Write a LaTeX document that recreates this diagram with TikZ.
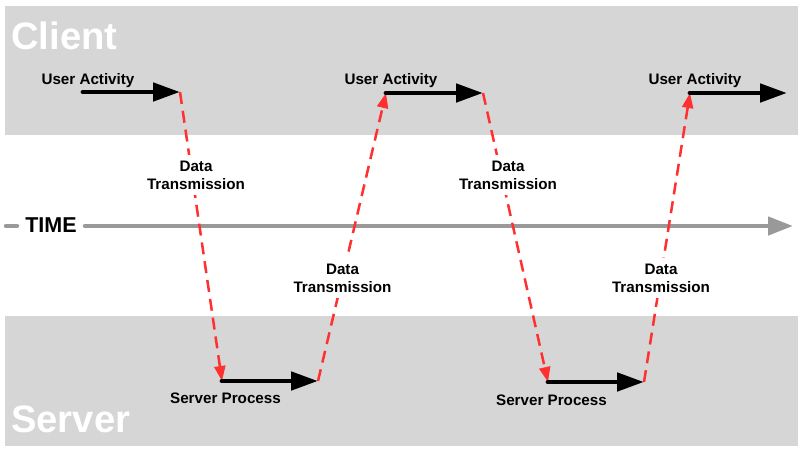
\documentclass[tikz,border=0pt]{standalone}
\usepackage{fontspec}
\setmainfont{Liberation Sans}
\usetikzlibrary{arrows.meta}
\definecolor{band}{HTML}{D6D6D6}
\definecolor{timegray}{HTML}{999999}
\definecolor{dred}{HTML}{FF3030}
\tikzset{
  bandbox/.style={fill=band, draw=none},
  bandtitle/.style={text=white, font=\fontsize{38.2}{41}\selectfont\bfseries, anchor=base west, inner sep=0pt},
  steplabel/.style={font=\fontsize{15.2}{18}\selectfont\bfseries, anchor=base, inner sep=0pt},
  dtlabel/.style={font=\fontsize{15.2}{18}\selectfont\bfseries, align=center, fill=white, inner sep=6pt},
  actarrow/.style={line width=4.8pt, line cap=round, -{Triangle[length=27pt,width=18pt]}, black},
  xfer/.style={dred, line width=2.5pt, dash pattern=on 12pt off 7pt, -{Triangle[length=15pt,width=11pt]}},
  timeline/.style={timegray, line width=4.5pt, line cap=round},
}
\begin{document}
\begin{tikzpicture}[x=1pt,y=-1pt]
\useasboundingbox (0,0) rectangle (812,472);
% bands
\fill[bandbox] (5,6) rectangle (798,135);
\fill[bandbox] (5,316) rectangle (798,446);
\node[bandtitle] (client) at (11,49) {Client};
\node[bandtitle] (server) at (11,432) {Server};
% time axis
\coordinate (t0) at (6,226);
\coordinate (t1) at (17,226);
\coordinate (t2) at (85,226);
\coordinate (t3) at (793,226);
\draw[timeline] (t0) -- (t1);
\draw[timeline, -{Triangle[length=25pt,width=18pt]}] (t2) -- (t3);
\node[font=\fontsize{21.5}{24}\selectfont\bfseries, anchor=base, inner sep=0pt] (time) at (51,232) {TIME};
% activity end points
\coordinate (ua1s) at (83,92);  \coordinate (ua1e) at (180,92);
\coordinate (ua2s) at (386,93); \coordinate (ua2e) at (483,93);
\coordinate (ua3s) at (690,93); \coordinate (ua3e) at (787,93);
\coordinate (sp1s) at (222,381); \coordinate (sp1e) at (318,381);
\coordinate (sp2s) at (548,382); \coordinate (sp2e) at (644,382);
% data transmissions
\draw[xfer] (ua1e) -- (sp1s);
\draw[xfer] (sp1e) -- (ua2s);
\draw[xfer] (ua2e) -- (sp2s);
\draw[xfer] (sp2e) -- (ua3s);
\node[dtlabel] (dt1) at (196,175) {Data\\Transmission};
\node[dtlabel] (dt2) at (342.5,278) {Data\\Transmission};
\node[dtlabel] (dt3) at (508,175) {Data\\Transmission};
\node[dtlabel] (dt4) at (661,278) {Data\\Transmission};
% activities
\draw[actarrow] (ua1s) -- (ua1e);
\draw[actarrow] (ua2s) -- (ua2e);
\draw[actarrow] (ua3s) -- (ua3e);
\draw[actarrow] (sp1s) -- (sp1e);
\draw[actarrow] (sp2s) -- (sp2e);
\node[steplabel] (ua1) at (88,84) {User Activity};
\node[steplabel] (ua2) at (391,84) {User Activity};
\node[steplabel] (ua3) at (695,84) {User Activity};
\node[steplabel] (sp1) at (225.5,403) {Server Process};
\node[steplabel] (sp2) at (551.5,405) {Server Process};
\end{tikzpicture}
\end{document}
